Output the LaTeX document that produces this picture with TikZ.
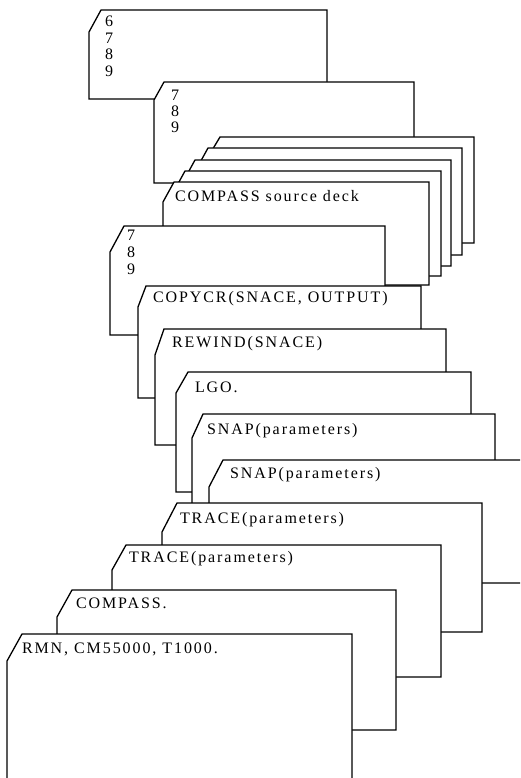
\documentclass[tikz,border=0pt]{standalone}
\usepackage{fontspec}
\setmainfont{Liberation Serif}[LetterSpace=12]
\tikzset{
  cardstyle/.style={draw=black, fill=white, line width=1.3pt, line join=miter},
  lbl/.style={anchor=base west, inner sep=0pt, outer sep=0pt, font=\fontsize{16}{19}\selectfont},
  digit/.style={lbl, text height=10.5pt, text depth=0pt},
}
% #1 left x, #2 top y, #3 right x, #4 bottom y, #5 cut dx, #6 cut dy
\newcommand\pcard[6]{\draw[cardstyle] ({#1+#5},#2) -- (#3,#2) -- (#3,#4) -- (#1,#4) -- (#1,{#2+#6}) -- cycle;}
\begin{document}
\begin{tikzpicture}[x=1pt,y=-1pt]
\useasboundingbox (0,0) rectangle (520,778);
\clip (0,0) rectangle (520,778);
% card A
\pcard{89}{10}{327}{99}{12}{22}
\node[digit] (a6) at (105,27) {6};
\node[digit] (a7) at (105,44) {7};
\node[digit] (a8) at (105,59.5) {8};
\node[digit] (a9) at (105,77) {9};
% card B
\pcard{154}{82}{414}{183}{10}{18}
\node[digit] (b7) at (171,101) {7};
\node[digit] (b8) at (171,117) {8};
\node[digit] (b9) at (171,132.5) {9};
% source deck (back cards)
\pcard{208}{137}{474}{243}{12}{20}
\pcard{197}{148}{462}{255}{11}{20}
\pcard{184}{160}{451}{266}{11}{20}
\pcard{174}{171}{441}{276}{11}{20}
\pcard{163}{182}{429}{285}{11}{20}
\node[lbl] (deck) at (175,201) {COMPASS source deck};
% card C
\pcard{110}{226}{385}{335}{14}{26}
\node[digit] (c7) at (127,240.5) {7};
\node[digit] (c8) at (127,257) {8};
\node[digit] (c9) at (127,274) {9};
% COPYCR
\pcard{138}{286}{421}{398}{8}{21}
\node[lbl] (copycr) at (153,302) {COPYCR(SNACE, OUTPUT)};
% REWIND
\pcard{155}{329}{446}{445}{9}{26}
\node[lbl] (rewind) at (172,347) {REWIND(SNACE)};
% LGO
\pcard{176}{372}{471}{492}{12}{21}
\node[lbl] (lgo) at (195,392.5) {LGO.};
% SNAP 1
\pcard{192}{414}{495}{560}{11}{24}
\node[lbl] (snapa) at (207,434) {SNAP(parameters)};
% SNAP 2
\pcard{209}{460}{540}{583}{14}{27}
\node[lbl] (snapb) at (230,478) {SNAP(parameters)};
% TRACE 1
\pcard{162}{503}{482}{632}{15}{29}
\node[lbl] (tracea) at (180,523) {TRACE(parameters)};
% TRACE 2
\pcard{112}{545}{441}{677}{14}{25}
\node[lbl] (traceb) at (129,562) {TRACE(parameters)};
% COMPASS.
\pcard{57}{590}{396}{730}{15}{27}
\node[lbl] (compass) at (76,608) {COMPASS.};
% RMN
\pcard{7}{634}{352}{800}{15}{27}
\node[lbl] (rmn) at (22,653) {RMN, CM55000, T1000.};
\end{tikzpicture}
\end{document}
